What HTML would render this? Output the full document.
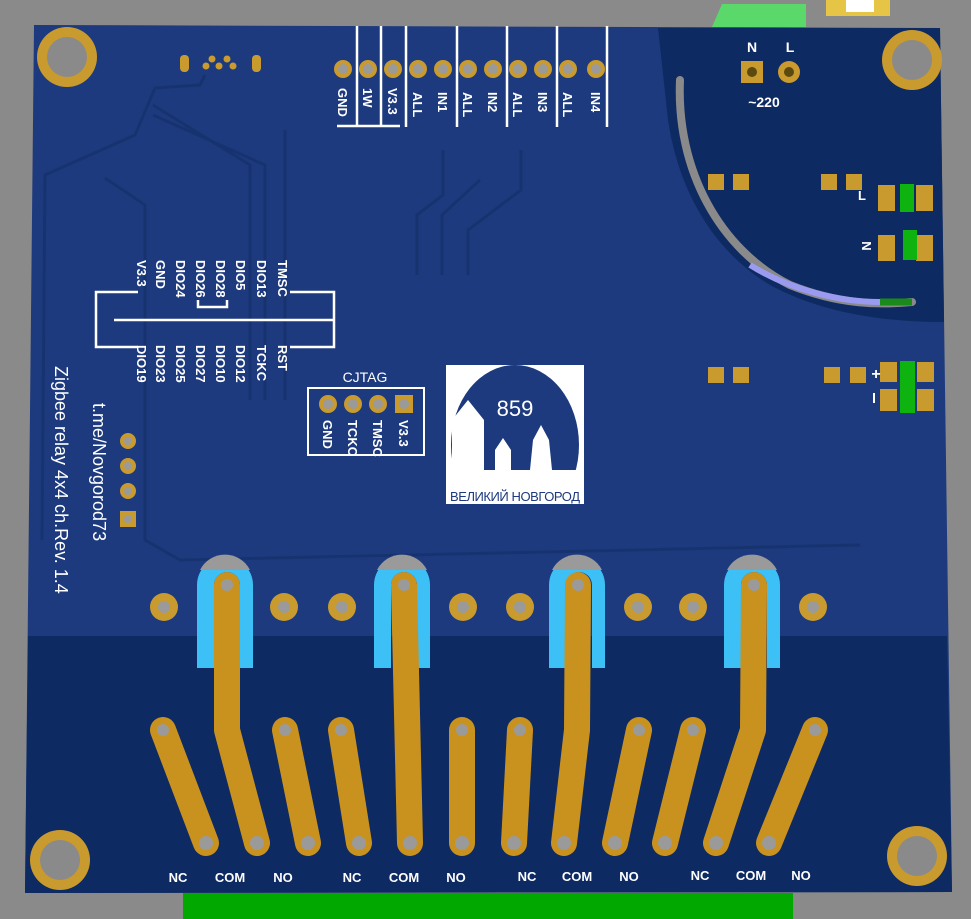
<!DOCTYPE html>
<html><head><meta charset="utf-8"><style>
html,body{margin:0;padding:0;background:#8a8a8a}
svg{display:block}
text{font-family:"Liberation Sans",sans-serif;fill:#fff}
.b{font-weight:bold;font-size:13px}
</style></head><body>
<svg width="971" height="919" viewBox="0 0 971 919" xmlns="http://www.w3.org/2000/svg">
<rect width="971" height="919" fill="#8a8a8a"/>
<polygon points="712,27 722,4 806,4 806,27" fill="#5bd86a"/>
<rect x="826" y="0" width="64" height="16" fill="#e6c445"/>
<rect x="846" y="0" width="28" height="12" fill="#fff"/>
<polygon points="34,25 940,28 952,892 25,893" fill="#1d3a7e"/>
<polygon points="28,636 947,636 952,892 25,893" fill="#0e2a62"/>
<path d="M658,28 L940,28 L944,322 C880,322 820,312 770,285 C720,255 680,200 668,120 Z" fill="#0e2a62"/>
<rect x="183" y="893" width="610" height="26" fill="#00a800"/>
<g fill="#c99a2e">
<circle cx="67" cy="57" r="30"/><circle cx="912" cy="60" r="30"/>
<circle cx="60" cy="860" r="30"/><circle cx="917" cy="856" r="30"/>
</g>
<g fill="#8a8a8a">
<circle cx="67" cy="57" r="20"/><circle cx="912" cy="60" r="20"/>
<circle cx="60" cy="860" r="20"/><circle cx="917" cy="856" r="20"/>
</g>
<g stroke="#17336f" stroke-width="3" fill="none">
<path d="M205,75 L200,85 L155,88 L135,135 L45,175 L42,540"/>
<path d="M153,105 L250,165 L250,400"/>
<path d="M153,115 L265,165 L265,400"/>
<path d="M105,178 L145,205 L145,540 L180,560 L860,545"/>
<path d="M285,130 L285,400"/>
<path d="M443,150 L443,195 L417,215 L417,275"/>
<path d="M480,180 L442,215 L442,275"/>
<path d="M521,150 L521,190 L468,230 L468,275"/>
</g>
<g fill="#c99a2e">
<rect x="180" y="55" width="9" height="17" rx="4"/><rect x="252" y="55" width="9" height="17" rx="4"/>
<circle cx="212" cy="59" r="3.5"/><circle cx="227" cy="59" r="3.5"/>
<circle cx="206" cy="66" r="3.5"/><circle cx="219" cy="66" r="3.5"/><circle cx="233" cy="66" r="3.5"/>
</g>
<g>
<g fill="#c99a2e">
<circle cx="343" cy="69" r="9"/><circle cx="368" cy="69" r="9"/><circle cx="393" cy="69" r="9"/><circle cx="418" cy="69" r="9"/><circle cx="443" cy="69" r="9"/><circle cx="468" cy="69" r="9"/><circle cx="493" cy="69" r="9"/><circle cx="518" cy="69" r="9"/><circle cx="543" cy="69" r="9"/><circle cx="568" cy="69" r="9"/><circle cx="596" cy="69" r="9"/>
</g>
<g fill="#9a9a9a">
<circle cx="343" cy="69" r="5"/><circle cx="368" cy="69" r="5"/><circle cx="393" cy="69" r="5"/><circle cx="418" cy="69" r="5"/><circle cx="443" cy="69" r="5"/><circle cx="468" cy="69" r="5"/><circle cx="493" cy="69" r="5"/><circle cx="518" cy="69" r="5"/><circle cx="543" cy="69" r="5"/><circle cx="568" cy="69" r="5"/><circle cx="596" cy="69" r="5"/>
</g>
<g stroke="#fff" stroke-width="2.5">
<line x1="357" y1="26" x2="357" y2="127"/><line x1="381" y1="26" x2="381" y2="127"/><line x1="406" y1="26" x2="406" y2="127"/><line x1="457" y1="26" x2="457" y2="127"/><line x1="507" y1="26" x2="507" y2="127"/><line x1="557" y1="26" x2="557" y2="127"/><line x1="607" y1="26" x2="607" y2="127"/>
<line x1="337" y1="126" x2="400" y2="126"/>
</g>
<g class="b">
<text transform="translate(338,88) rotate(90)">GND</text>
<text transform="translate(363,88) rotate(90)">1W</text>
<text transform="translate(388,88) rotate(90)">V3.3</text>
<text transform="translate(413,92) rotate(90)">ALL</text>
<text transform="translate(438,92) rotate(90)">IN1</text>
<text transform="translate(463,92) rotate(90)">ALL</text>
<text transform="translate(488,92) rotate(90)">IN2</text>
<text transform="translate(513,92) rotate(90)">ALL</text>
<text transform="translate(538,92) rotate(90)">IN3</text>
<text transform="translate(563,92) rotate(90)">ALL</text>
<text transform="translate(591,92) rotate(90)">IN4</text>
</g>
</g>
<g stroke="#fff" stroke-width="2.5" fill="none">
<path d="M138,292 L96,292 L96,347 L138,347"/>
<path d="M290,292 L334,292 L334,347 L290,347"/>
<line x1="114" y1="320" x2="334" y2="320"/>
<path d="M198,300 L198,307 L227,307 L227,300"/>
</g>
<g class="b">
<text transform="translate(137,260) rotate(90)">V3.3</text>
<text transform="translate(156,260) rotate(90)">GND</text>
<text transform="translate(176,260) rotate(90)">DIO24</text>
<text transform="translate(196,260) rotate(90)">DIO26</text>
<text transform="translate(216,260) rotate(90)">DIO28</text>
<text transform="translate(236,260) rotate(90)">DIO5</text>
<text transform="translate(257,260) rotate(90)">DIO13</text>
<text transform="translate(278,260) rotate(90)">TMSC</text>
<text transform="translate(137,345) rotate(90)">DIO19</text>
<text transform="translate(156,345) rotate(90)">DIO23</text>
<text transform="translate(176,345) rotate(90)">DIO25</text>
<text transform="translate(196,345) rotate(90)">DIO27</text>
<text transform="translate(216,345) rotate(90)">DIO10</text>
<text transform="translate(236,345) rotate(90)">DIO12</text>
<text transform="translate(257,345) rotate(90)">TCKC</text>
<text transform="translate(278,345) rotate(90)">RST</text>
</g>
<text x="365" y="382" font-size="14" text-anchor="middle">CJTAG</text>
<rect x="308" y="388" width="116" height="67" fill="none" stroke="#fff" stroke-width="2"/>
<g fill="#c99a2e"><circle cx="328" cy="404" r="9"/><circle cx="353" cy="404" r="9"/><circle cx="378" cy="404" r="9"/><rect x="395" y="395" width="18" height="18"/></g>
<g fill="#9a9a9a"><circle cx="328" cy="404" r="5"/><circle cx="353" cy="404" r="5"/><circle cx="378" cy="404" r="5"/><circle cx="404" cy="404" r="5"/></g>
<g class="b">
<text transform="translate(323,420) rotate(90)">GND</text>
<text transform="translate(348,420) rotate(90)">TCKC</text>
<text transform="translate(373,420) rotate(90)">TMSC</text>
<text transform="translate(399,420) rotate(90)">V3.3</text>
</g>
<rect x="446" y="365" width="138" height="139" fill="#fff"/>
<ellipse cx="515" cy="445" rx="64" ry="80" fill="#1d3a7e"/>
<rect x="446" y="470" width="138" height="34" fill="#fff"/>
<path d="M452,470 L452,420 L468,400 L484,420 L484,470 Z M495,470 L495,450 L503,438 L511,450 L511,470 Z M530,470 L533,440 L541,425 L549,440 L552,470 Z" fill="#fff"/>
<text x="515" y="416" font-size="22" text-anchor="middle" fill="#fff">859</text>
<text x="515" y="501" font-size="13" text-anchor="middle" style="fill:#1d3a7e;font-family:'Liberation Sans','Noto Sans CJK SC',sans-serif" textLength="130">ВЕЛИКИЙ НОВГОРОД</text>
<text transform="translate(55,366) rotate(90)" font-size="18">Zigbee relay 4x4 ch.Rev. 1.4</text>
<text transform="translate(93,403) rotate(90)" font-size="18">t.me/Novgorod73</text>
<g fill="#c99a2e"><circle cx="128" cy="441" r="8"/><circle cx="128" cy="466" r="8"/><circle cx="128" cy="491" r="8"/><rect x="120" y="511" width="16" height="16"/></g>
<g fill="#9a9a9a"><circle cx="128" cy="441" r="4"/><circle cx="128" cy="466" r="4"/><circle cx="128" cy="491" r="4"/><circle cx="128" cy="519" r="4"/></g>
<text x="752" y="52" font-size="14" text-anchor="middle" font-weight="bold">N</text>
<text x="790" y="52" font-size="14" text-anchor="middle" font-weight="bold">L</text>
<rect x="741" y="61" width="22" height="22" fill="#c99a2e"/><circle cx="789" cy="72" r="11" fill="#c99a2e"/>
<circle cx="752" cy="72" r="5" fill="#5a4a10"/><circle cx="789" cy="72" r="5" fill="#5a4a10"/>
<text x="764" y="107" font-size="14" text-anchor="middle" font-weight="bold">~220</text>
<path d="M680,80 C676,170 720,250 790,285 C840,305 880,305 912,302" stroke="#8a8a8a" stroke-width="8" fill="none" stroke-linecap="round"/>
<path d="M750,265 C790,290 840,302 880,302" stroke="#9a9af0" stroke-width="6" fill="none"/>
<path d="M880,302 L912,302" stroke="#1a8a1a" stroke-width="7"/>
<g fill="#c99a2e">
<rect x="708" y="174" width="16" height="16"/><rect x="733" y="174" width="16" height="16"/>
<rect x="821" y="174" width="16" height="16"/><rect x="846" y="174" width="16" height="16"/>
<rect x="708" y="367" width="16" height="16"/><rect x="733" y="367" width="16" height="16"/>
<rect x="824" y="367" width="16" height="16"/><rect x="850" y="367" width="16" height="16"/>
<rect x="878" y="185" width="17" height="26"/><rect x="916" y="185" width="17" height="26"/>
<rect x="878" y="235" width="17" height="26"/><rect x="916" y="235" width="17" height="26"/>
<rect x="880" y="362" width="17" height="20"/><rect x="917" y="362" width="17" height="20"/>
<rect x="880" y="389" width="17" height="22"/><rect x="917" y="389" width="17" height="22"/>
</g>
<g fill="#0fb30f">
<rect x="900" y="184" width="14" height="28"/><rect x="903" y="230" width="14" height="30"/>
<rect x="900" y="361" width="15" height="52"/>
</g>
<text x="862" y="200" font-size="13" font-weight="bold" text-anchor="middle">L</text>
<text x="862" y="246" font-size="13" font-weight="bold" text-anchor="middle" transform="rotate(90 862 246)">N</text>
<text x="876" y="379" font-size="16" font-weight="bold" text-anchor="middle">+</text>
<rect x="873" y="393" width="2" height="10" fill="#fff"/>
<g fill="#3cc0f5">
<path d="M197,668 L197,585 A28,28 0 0 1 253,585 L253,668 L240,668 L240,585 A13,13 0 0 0 214,585 L214,668 Z"/>
<path d="M374,668 L374,585 A28,28 0 0 1 430,585 L430,668 L417,668 L417,585 A13,13 0 0 0 391,585 L391,668 Z"/>
<path d="M549,668 L549,585 A28,28 0 0 1 605,585 L605,668 L592,668 L592,585 A13,13 0 0 0 566,585 L566,668 Z"/>
<path d="M724,668 L724,585 A28,28 0 0 1 780,585 L780,668 L767,668 L767,585 A13,13 0 0 0 741,585 L741,668 Z"/>
</g>
<g fill="#9a9a9a"><path d="M200,570 A28,28 0 0 1 250,570 Z"/><path d="M377,570 A28,28 0 0 1 427,570 Z"/><path d="M552,570 A28,28 0 0 1 602,570 Z"/><path d="M727,570 A28,28 0 0 1 777,570 Z"/></g>
<g stroke="#c9921f" stroke-width="26" stroke-linecap="round" stroke-linejoin="round" fill="none">
<path d="M163,730 L206,843"/><path d="M227,585 L227,730 L257,843"/><path d="M285,730 L308,843"/>
<path d="M341,730 L359,843"/><path d="M404,585 L410,843"/><path d="M462,730 L462,843"/>
<path d="M520,730 L514,843"/><path d="M578,585 L577,730 L564,843"/><path d="M639,730 L615,843"/>
<path d="M693,730 L665,843"/><path d="M754,585 L753,730 L716,843"/><path d="M815,730 L769,843"/>
</g>
<g fill="#c99a2e">
<circle cx="164" cy="607" r="14"/><circle cx="284" cy="607" r="14"/><circle cx="342" cy="607" r="14"/><circle cx="463" cy="607" r="14"/><circle cx="520" cy="607" r="14"/><circle cx="638" cy="607" r="14"/><circle cx="693" cy="607" r="14"/><circle cx="813" cy="607" r="14"/>
</g>
<g fill="#9a9a9a">
<circle cx="164" cy="607" r="6"/><circle cx="284" cy="607" r="6"/><circle cx="342" cy="607" r="6"/><circle cx="463" cy="607" r="6"/><circle cx="520" cy="607" r="6"/><circle cx="638" cy="607" r="6"/><circle cx="693" cy="607" r="6"/><circle cx="813" cy="607" r="6"/>
<circle cx="227" cy="585" r="6"/><circle cx="404" cy="585" r="6"/><circle cx="578" cy="585" r="6"/><circle cx="754" cy="585" r="6"/>
<circle cx="163" cy="730" r="6"/><circle cx="285" cy="730" r="6"/><circle cx="341" cy="730" r="6"/><circle cx="462" cy="730" r="6"/><circle cx="520" cy="730" r="6"/><circle cx="639" cy="730" r="6"/><circle cx="693" cy="730" r="6"/><circle cx="815" cy="730" r="6"/>
<circle cx="206" cy="843" r="7"/><circle cx="257" cy="843" r="7"/><circle cx="308" cy="843" r="7"/><circle cx="359" cy="843" r="7"/><circle cx="410" cy="843" r="7"/><circle cx="462" cy="843" r="7"/><circle cx="514" cy="843" r="7"/><circle cx="564" cy="843" r="7"/><circle cx="615" cy="843" r="7"/><circle cx="665" cy="843" r="7"/><circle cx="716" cy="843" r="7"/><circle cx="769" cy="843" r="7"/>
</g>
<g class="b" text-anchor="middle">
<text x="178" y="882">NC</text><text x="230" y="882">COM</text><text x="283" y="882">NO</text>
<text x="352" y="882">NC</text><text x="404" y="882">COM</text><text x="456" y="882">NO</text>
<text x="527" y="881">NC</text><text x="577" y="881">COM</text><text x="629" y="881">NO</text>
<text x="700" y="880">NC</text><text x="751" y="880">COM</text><text x="801" y="880">NO</text>
</g>
</svg>
</body></html>
